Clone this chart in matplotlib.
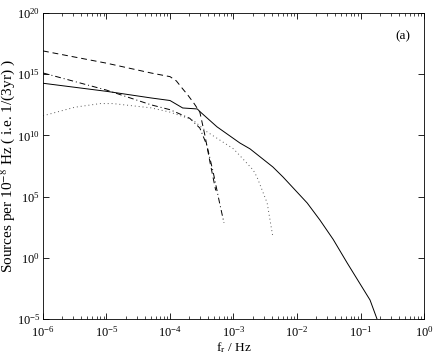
import matplotlib
matplotlib.use("Agg")
import matplotlib.pyplot as plt
import numpy as np
from matplotlib.ticker import LogLocator, NullFormatter

plt.rcParams['font.family'] = ['Liberation Serif', 'DejaVu Serif']
plt.rcParams['mathtext.fontset'] = 'stix'

# log10(frequency), log10(sources)
solid_lx = [-6, -5, -4.3, -4.0, -3.8, -3.57, -3.53, -3.26, -2.9, -2.74, -2.38, -2.22, -1.84, -1.64, -1.43, -1.21, -0.85, -0.74]
solid_ly = [14.26, 13.6, 13.06, 12.85, 12.24, 12.16, 11.95, 10.7, 9.38, 8.9, 7.42, 6.6, 4.48, 3.09, 1.5, -0.42, -3.45, -5.0]

dashed_lx = [-6, -5, -4.3, -4.0, -3.9, -3.8, -3.72, -3.62, -3.53, -3.45, -3.37, -3.28]
dashed_ly = [16.9, 15.9, 15.1, 14.8, 14.45, 13.8, 13.3, 12.6, 11.9, 10.0, 7.8, 5.5]

dashdot_lx = [-6, -5, -4.3, -4.0, -3.69, -3.53, -3.42, -3.32, -3.22, -3.15]
dashdot_ly = [15.1, 13.7, 12.5, 12.1, 11.4, 10.6, 9.2, 7.0, 4.5, 2.85]

dotted_lx = [-6, -5.5, -5.1, -4.9, -4.3, -4.0, -3.64, -3.42, -3.0, -2.9, -2.69, -2.63, -2.47, -2.38]
dotted_ly = [11.6, 12.3, 12.6, 12.6, 12.25, 11.9, 11.26, 10.3, 8.9, 8.35, 7.17, 6.6, 4.48, 1.7]

fig = plt.figure(figsize=(4.36, 3.54), dpi=100)
ax = fig.add_axes([0.0986, 0.0989, 0.8739, 0.8644])

def p(lx, ly):
    return 10.0 ** np.array(lx), 10.0 ** np.array(ly)

ax.plot(*p(solid_lx, solid_ly), color='black', lw=0.7, ls='-')
ax.plot(*p(dashed_lx, dashed_ly), color='black', lw=0.7, ls=(0, (6, 4)))
ax.plot(*p(dashdot_lx, dashdot_ly), color='black', lw=0.7, ls=(0, (6, 3, 1, 3)))
ax.plot(*p(dotted_lx, dotted_ly), color='0.35', lw=0.7, ls=(0, (1, 3)))

ax.set_xscale('log')
ax.set_yscale('log')
ax.set_xlim(1e-6, 1e0)
ax.set_ylim(1e-5, 1e20)
ax.set_xticks([10.0 ** k for k in range(-6, 1)])
ax.set_yticks([10.0 ** k for k in range(-5, 21, 5)])
ax.xaxis.set_minor_locator(LogLocator(base=10, subs=np.arange(2, 10), numticks=100))
ax.xaxis.set_minor_formatter(NullFormatter())
ax.yaxis.set_minor_locator(matplotlib.ticker.NullLocator())
ax.tick_params(which='both', direction='in', top=True, right=True, labelsize=9)
ax.tick_params(which='major', length=4, width=0.6, pad=2)
ax.tick_params(axis='x', which='major', pad=4.5)
ax.tick_params(which='minor', length=2, width=0.5)
for s in ax.spines.values():
    s.set_linewidth(0.6)

ax.set_xlabel('f$_{\\rm r}$ / Hz', fontsize=9.5)
ax.xaxis.set_label_coords(0.5, -0.068)
ax.set_ylabel('Sources per 10$^{-8}$ Hz ( i.e. 1/(3yr) )', fontsize=11)
ax.yaxis.set_label_coords(-0.067, 0.5)
ax.text(0.945, 0.925, '(a)', transform=ax.transAxes, ha='center', va='center', fontsize=9.5)

fig.savefig('out.png', dpi=100)
